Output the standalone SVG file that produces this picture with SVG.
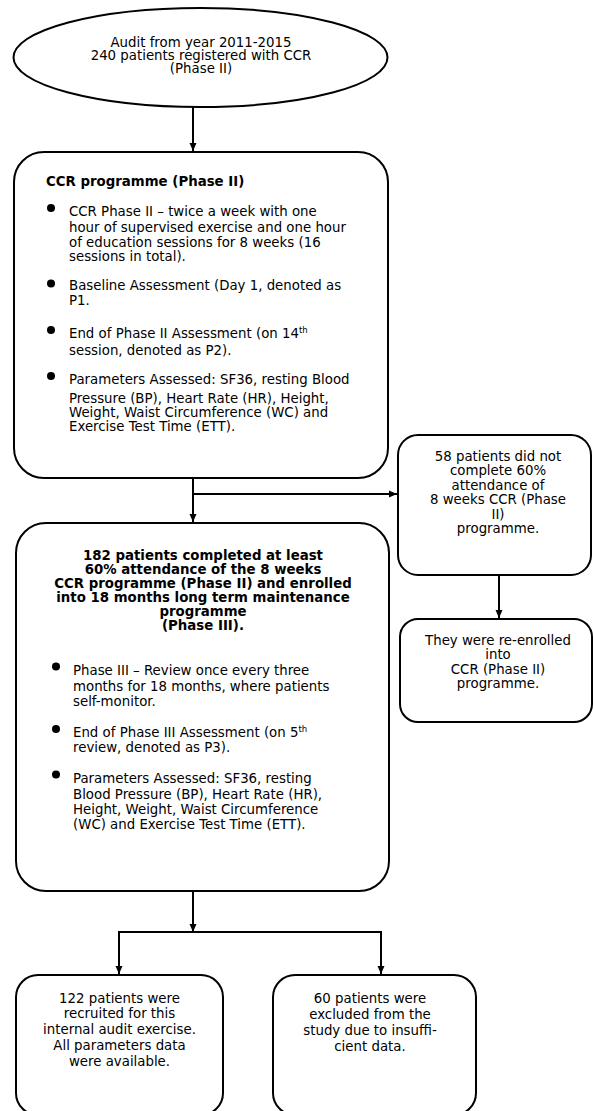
<svg xmlns="http://www.w3.org/2000/svg" width="593" height="1111" viewBox="0 0 593 1111">
<style>
.box{fill:#fff;stroke:#000;stroke-width:2}
.ln{fill:none;stroke:#000;stroke-width:2}
text{font-family:"DejaVu Sans","Verdana",sans-serif;font-size:13.33px;fill:#000}
.c{text-anchor:middle}
.b{font-weight:bold}
.sup{font-size:8.5px}
.dot{fill:#000}
</style>
<defs>
<marker id="ah" markerUnits="userSpaceOnUse" markerWidth="8" markerHeight="8" refX="8" refY="4" orient="auto">
<path d="M0,0.5 L8,4 L0,7.5 z" fill="#000"/>
</marker>
</defs>
<rect width="593" height="1111" fill="#fff"/>

<g id="connectors">
<path class="ln" d="M193,107 V151" marker-end="url(#ah)"/>
<path class="ln" d="M193,478 V522" marker-end="url(#ah)"/>
<path class="ln" d="M193,494 H397" marker-end="url(#ah)"/>
<path class="ln" d="M499,575 V618" marker-end="url(#ah)"/>
<path class="ln" d="M193,891 V932" marker-end="url(#ah)"/>
<path class="ln" d="M118,932 H382"/>
<path class="ln" d="M119,932 V974" marker-end="url(#ah)"/>
<path class="ln" d="M381,932 V974" marker-end="url(#ah)"/>
</g>

<g id="audit">
<ellipse class="box" cx="200.5" cy="57.5" rx="187" ry="49.5"/>
<text class="c" x="201" y="47">Audit from year 2011-2015</text>
<text class="c" x="201" y="60">240 patients registered with CCR</text>
<text class="c" x="201" y="73">(Phase II)</text>
</g>

<g id="ccr-programme">
<rect class="box" x="14" y="152" width="374" height="326" rx="30"/>
<text class="b" x="46" y="185.5">CCR programme (Phase II)</text>
<circle class="dot" cx="51" cy="208" r="4"/>
<text x="69" y="215.5">CCR Phase II – twice a week with one</text>
<text x="69" y="231.5">hour of supervised exercise and one hour</text>
<text x="69" y="246.5">of education sessions for 8 weeks (16</text>
<text x="69" y="261">sessions in total).</text>
<circle class="dot" cx="51" cy="283.5" r="4"/>
<text x="69" y="290">Baseline Assessment (Day 1, denoted as</text>
<text x="69" y="305">P1.</text>
<circle class="dot" cx="51" cy="330" r="4"/>
<text x="69" y="338">End of Phase II Assessment (on 14<tspan class="sup" dy="-5">th</tspan></text>
<text x="69" y="355">session, denoted as P2).</text>
<circle class="dot" cx="51" cy="376" r="4"/>
<text x="69" y="384">Parameters Assessed: SF36, resting Blood</text>
<text x="69" y="403">Pressure (BP), Heart Rate (HR), Height,</text>
<text x="69" y="416.5">Weight, Waist Circumference (WC) and</text>
<text x="69" y="430.5">Exercise Test Time (ETT).</text>
</g>

<g id="not-complete">
<rect class="box" x="398" y="435" width="193" height="140" rx="20"/>
<text class="c" x="498" y="460.5">58 patients did not</text>
<text class="c" x="498" y="475">complete 60%</text>
<text class="c" x="498" y="489.5">attendance of</text>
<text class="c" x="498" y="504">8 weeks CCR (Phase</text>
<text class="c" x="498" y="518.5">II)</text>
<text class="c" x="498" y="533">programme.</text>
</g>

<g id="re-enrolled">
<rect class="box" x="400" y="619" width="192" height="103" rx="18"/>
<text class="c" x="498" y="644.5">They were re-enrolled</text>
<text class="c" x="498" y="659">into</text>
<text class="c" x="498" y="673.5">CCR (Phase II)</text>
<text class="c" x="498" y="688">programme.</text>
</g>

<g id="completed">
<rect class="box" x="16" y="523" width="373" height="368" rx="30"/>
<text class="c b" x="203" y="559.5">182 patients completed at least</text>
<text class="c b" x="203" y="573.5">60% attendance of the 8 weeks</text>
<text class="c b" x="203" y="587.5">CCR programme (Phase II) and enrolled</text>
<text class="c b" x="203" y="601.5">into 18 months long term maintenance</text>
<text class="c b" x="203" y="615.5">programme</text>
<text class="c b" x="203" y="630">(Phase III).</text>
<circle class="dot" cx="56" cy="666.5" r="4"/>
<text x="73" y="674.5">Phase III – Review once every three</text>
<text x="73" y="691">months for 18 months, where patients</text>
<text x="73" y="705.5">self-monitor.</text>
<circle class="dot" cx="56" cy="729" r="4"/>
<text x="73" y="736.5">End of Phase III Assessment (on 5<tspan class="sup" dy="-5">th</tspan></text>
<text x="73" y="751.5">review, denoted as P3).</text>
<circle class="dot" cx="56" cy="774.5" r="4"/>
<text x="73" y="782.5">Parameters Assessed: SF36, resting</text>
<text x="73" y="799">Blood Pressure (BP), Heart Rate (HR),</text>
<text x="73" y="814">Height, Weight, Waist Circumference</text>
<text x="73" y="828.5">(WC) and Exercise Test Time (ETT).</text>
</g>

<g id="recruited">
<rect class="box" x="16" y="975" width="207" height="140" rx="22"/>
<text class="c" x="119.5" y="1003">122 patients were</text>
<text class="c" x="119.5" y="1018">recruited for this</text>
<text class="c" x="119.5" y="1033.5">internal audit exercise.</text>
<text class="c" x="119.5" y="1050">All parameters data</text>
<text class="c" x="119.5" y="1065.5">were available.</text>
</g>

<g id="excluded">
<rect class="box" x="273" y="975" width="203" height="140" rx="22"/>
<text class="c" x="370" y="1003">60 patients were</text>
<text class="c" x="370" y="1019">excluded from the</text>
<text class="c" x="370" y="1035">study due to insuffi-</text>
<text class="c" x="370" y="1051">cient data.</text>
</g>
</svg>
